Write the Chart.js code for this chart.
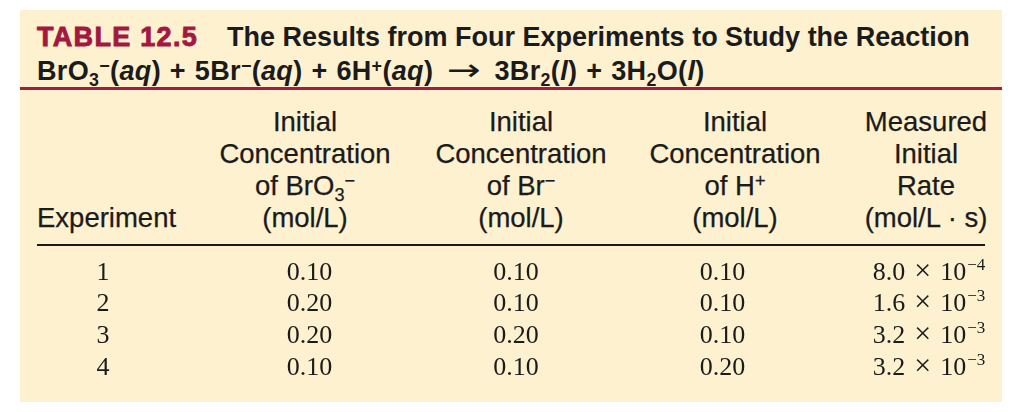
<!DOCTYPE html>
<html>
<head>
<meta charset="utf-8">
<script src="https://cdn.jsdelivr.net/npm/chart.js@4.4.1/dist/chart.umd.min.js"></script>
<style>
  html, body { margin:0; padding:0; background:#ffffff; }
  body { width:1024px; height:412px; position:relative; overflow:hidden; font-family:"Liberation Sans", Arial, Helvetica, sans-serif; color:#1b1b1b; }
  #panel { position:absolute; left:20px; top:10px; width:982px; height:392px; background:#fdf1d0; }
  .tline { position:absolute; left:37px; font-weight:bold; font-size:27px; line-height:33px; white-space:nowrap; }
  .tnum { color:#a3183f; letter-spacing:1.3px; margin-right:29px; -webkit-text-stroke:0.9px #a3183f; }
  .l2 { letter-spacing:0.35px; word-spacing:1px; }
  sub, sup { font-size:0.66em; line-height:0; position:relative; vertical-align:baseline; }
  sub { top:0.32em; }
  sup { top:-0.45em; }
  .arrow { display:inline-block; font-weight:normal; font-family:"DejaVu Sans", sans-serif; font-size:30px; margin:0 9px; transform:scaleX(1.35); }
  #rule1 { position:absolute; left:20px; top:87px; width:982px; height:3px; background:#a51c42; }
  #rule2 { position:absolute; left:37px; top:244px; width:948px; height:2px; background:#1b1b1b; }
  .hcol { position:absolute; top:106px; font-size:27.5px; line-height:32px; text-align:center; white-space:nowrap; -webkit-text-stroke:0.25px #1b1b1b; }
  #chartCanvas { position:absolute; left:0; top:0; }
</style>
</head>
<body>
<div id="panel"></div>
<div class="tline" style="top:21px;"><span class="tnum">TABLE 12.5</span>The Results from Four Experiments to Study the Reaction</div>
<div class="tline l2" style="top:53px;">BrO<sub>3</sub><sup>−</sup>(<i>aq</i>) + 5Br<sup>−</sup>(<i>aq</i>) + 6H<sup>+</sup>(<i>aq</i>) <span class="arrow">→</span> 3Br<sub>2</sub>(<i>l</i>) + 3H<sub>2</sub>O(<i>l</i>)</div>
<div id="rule1"></div>
<div class="hcol" style="left:37px; text-align:left; top:202px;">Experiment</div>
<div class="hcol" style="left:205px; width:200px;">Initial<br>Concentration<br>of BrO<sub>3</sub><sup>−</sup><br>(mol/L)</div>
<div class="hcol" style="left:421px; width:200px;">Initial<br>Concentration<br>of Br<sup>−</sup><br>(mol/L)</div>
<div class="hcol" style="left:635px; width:200px;">Initial<br>Concentration<br>of H<sup>+</sup><br>(mol/L)</div>
<div class="hcol" style="left:826px; width:200px;">Measured<br>Initial<br>Rate<br>(mol/L · s)</div>
<div id="rule2"></div>
<canvas id="chartCanvas" width="1024" height="412"></canvas>
<script>
// ---- data ----
const columns = ["Experiment", "BrO3", "Br", "H", "Rate"];
const experiments = ["1", "2", "3", "4"];
const concBrO3 = [0.10, 0.20, 0.20, 0.10];
const concBr   = [0.10, 0.10, 0.20, 0.10];
const concH    = [0.10, 0.10, 0.10, 0.20];
const rates    = [8.0e-4, 1.6e-3, 3.2e-3, 3.2e-3];

const seriesByColumn = {
  Experiment: experiments.map(Number),
  BrO3: concBrO3,
  Br: concBr,
  H: concH,
  Rate: rates
};

const datasets = columns.map(col => ({
  label: col,
  data: experiments.map((e, i) => ({ x: col, y: e, v: seriesByColumn[col][i] })),
  pointRadius: 0,
  pointHoverRadius: 0,
  showLine: false
}));

const serif = '"Liberation Serif", "Times New Roman", Times, serif';
const textColor = '#1b1b1b';

const cellTextPlugin = {
  id: 'cellText',
  afterDatasetsDraw(chart) {
    const ctx = chart.ctx;
    ctx.save();
    ctx.fillStyle = textColor;
    ctx.textBaseline = 'alphabetic';
    const big = '26px ' + serif, small = '17px ' + serif;
    chart.data.datasets.forEach((ds, di) => {
      const meta = chart.getDatasetMeta(di);
      meta.data.forEach((pt, i) => {
        const v = ds.data[i].v;
        const x = pt.x, y = pt.y + 8.5;
        ctx.font = big;
        if (ds.label === 'Experiment') {
          ctx.textAlign = 'center';
          ctx.fillText(String(v), x, y);
        } else if (ds.label === 'Rate') {
          const exp = Math.floor(Math.log10(v) + 1e-9);
          const mant = (v / Math.pow(10, exp)).toFixed(1);
          const parts = [
            { t: mant, f: big, dy: 0, gap: 9 },
            { t: '\u00D7', f: '30px ' + serif, dy: 0, gap: 9 },
            { t: '10', f: big, dy: 0, gap: 1 },
            { t: '\u2212' + Math.abs(exp), f: small, dy: -10, gap: 0 }
          ];
          let total = 0;
          parts.forEach(p => { ctx.font = p.f; p.w = ctx.measureText(p.t).width; total += p.w + p.gap; });
          let cx = x - total / 2;
          ctx.textAlign = 'left';
          parts.forEach(p => { ctx.font = p.f; ctx.fillText(p.t, cx, y + p.dy); cx += p.w + p.gap; });
        } else {
          ctx.textAlign = 'center';
          ctx.fillText(v.toFixed(2), x, y);
        }
      });
    });
    ctx.restore();
  }
};

new Chart(document.getElementById('chartCanvas'), {
  type: 'scatter',
  data: { datasets },
  options: {
    responsive: false,
    animation: false,
    devicePixelRatio: 1,
    events: [],
    layout: { padding: { left: 103, right: 95, top: 271, bottom: 46 } },
    plugins: { legend: { display: false }, tooltip: { enabled: false } },
    scales: {
      x: { type: 'category', labels: columns, offset: false, display: false },
      y: { type: 'category', labels: experiments, offset: false, display: false }
    }
  },
  plugins: [cellTextPlugin]
});
</script>
</body>
</html>
